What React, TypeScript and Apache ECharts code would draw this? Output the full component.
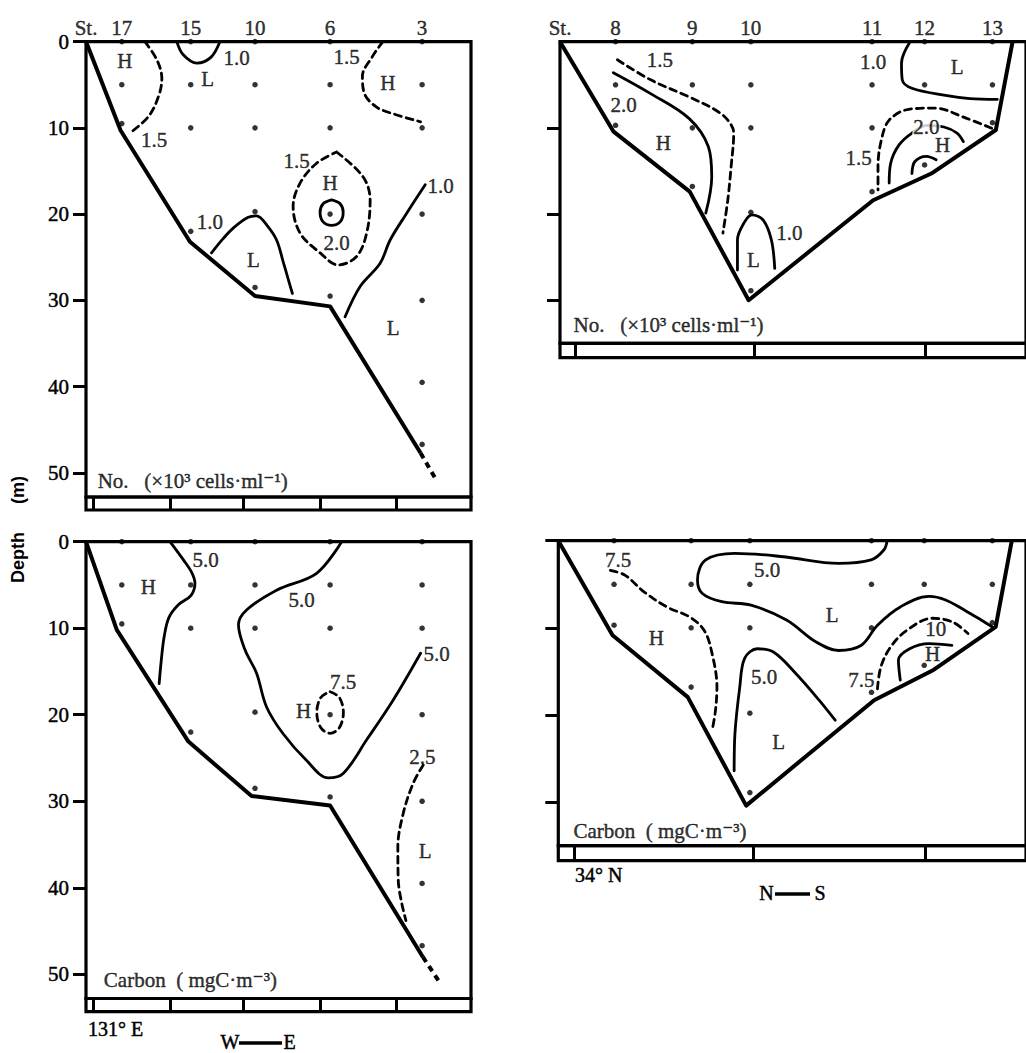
import React, { useEffect, useRef } from 'react';
import * as echarts from 'echarts';

const SERIF = "'Liberation Serif', 'Times New Roman', 'DejaVu Serif', serif";
const SANS = "'Liberation Sans', Arial, 'DejaVu Sans', sans-serif";

// ---------- West–East section (left panels); x = distance units from the coast, y = depth (m)
const stationNamesW = ['17', '15', '10', '6', '3'];
const stationXW = [9.3, 27.2, 43.9, 63.4, 87.3];
const sampleDepthsW = [
  [0, 5, 9.5],
  [0, 5, 10, 22],
  [0, 5, 10, 19.7, 28.5],
  [0, 5, 10, 20, 29.5],
  [0, 5, 10, 20, 30, 39.5, 46.7],
];
const depthTicksW = [0, 10, 20, 30, 40, 50];
const lonTicksW = [1.8, 21.8, 40.8, 60.8, 80.5];

const bottomNoW = [[0, 0], [9.0, 10.3], [27.0, 23.2], [43.9, 29.5], [63.4, 30.7], [86.9, 47.7]];
const bottomNoWExt = [[86.9, 47.7], [91.2, 51]];
const bottomCW = [[0, 0], [8.0, 10.2], [26.6, 23.1], [43.0, 29.4], [63.4, 30.5], [87.5, 48.0]];
const bottomCWExt = [[87.5, 48.0], [92.1, 51.1]];

// cell number contours (x10^3 cells/ml), W–E
const noW15a = [[15.3, 0], [18.5, 2.2], [19.7, 4.3], [18.8, 6.4], [16.2, 8.7], [11.4, 10.6]];
const noW10a = [[23.6, 0], [25.2, 1.5], [28.8, 2.5], [32.5, 1.8], [34.8, 0]];
const noW15b = [[77.1, 0], [74.3, 1.8], [71.8, 4.0], [72.3, 6.0], [75.5, 7.6], [80, 8.4], [86.9, 9.3]];
const noW15c = [[65.1, 12.8], [72.0, 15.7], [73.8, 18.4], [72.9, 22.2], [70.3, 24.9], [65.5, 25.9], [60.8, 24.5], [55.6, 22.2], [53.8, 19.1], [55.6, 16.4], [59.9, 14.1], [65.1, 12.8]];
const noW20 = [[63.8, 18.35], [66.0, 18.8], [66.8, 19.8], [66.0, 20.9], [63.8, 21.3], [61.6, 20.9], [60.8, 19.8], [61.6, 18.8], [63.8, 18.35]];
const noW10b = [[32.6, 24.5], [35.5, 22.9], [38.3, 21.6], [42, 20.4], [44.3, 20.2], [47, 21.3], [49.5, 23.0], [51.2, 25.5], [52.5, 27.5], [53.6, 29.2]];
const noW10c = [[88.1, 16.6], [83.3, 19.9], [79.0, 23.0], [76.4, 25.7], [71.2, 28.4], [67.3, 31.9]];
const noWLabels = [
  ['H', 10.1, 2.3], ['1.5', 17.7, 11.4], ['1.0', 39.1, 1.95], ['L', 31.6, 4.3],
  ['1.5', 67.7, 1.75], ['H', 78.4, 4.8], ['1.5', 54.7, 13.8], ['H', 63.4, 16.4],
  ['2.0', 65.1, 23.3], ['1.0', 32.2, 20.9], ['L', 43.5, 25.3], ['1.0', 92.1, 16.7], ['L', 79.8, 33.2],
];

// carbon contours (mgC/m3), W–E
const cW50a = [[21.8, 0], [23.5, 1.0], [25.3, 2.1], [27.5, 3.6], [28.3, 4.8], [27.3, 6.2], [24, 7.3], [21.5, 8.8], [20.3, 11], [19.6, 13.5], [19.0, 16.4]];
const cW50b = [[66.4, 0], [59.9, 3.65], [49.5, 5.6], [41.7, 7.9], [39.6, 9.6], [41.3, 12.5], [44.3, 15.2], [46.9, 19.1], [51.2, 22.2], [57.3, 25.3], [62.9, 27.3], [66.8, 26.8], [72.9, 22.9], [79.8, 18.3], [86.9, 12.9]];
const cW75 = [[63.4, 17.35], [65.8, 18.0], [66.85, 19.75], [65.8, 21.5], [63.4, 22.15], [61.0, 21.5], [59.95, 19.75], [61.0, 18.0], [63.4, 17.35]];
const cW25 = [[87.6, 25.8], [85.0, 27.9], [82.4, 31.4], [81.0, 35.3], [81.1, 39.1], [83.1, 43.8]];
const cWLabels = [
  ['5.0', 31.1, 2.1], ['H', 16.2, 5.2], ['5.0', 56.0, 6.7], ['5.0', 91.1, 13.0],
  ['H', 56.5, 19.6], ['7.5', 66.8, 16.2], ['2.5', 87.4, 24.9], ['L', 88.1, 35.8],
];

// ---------- North–South section (right panels)
const stationNamesN = ['8', '9', '10', '11', '12', '13'];
const stationXN = [14.9, 35.5, 51.2, 83.7, 97.8, 116.0];
const sampleDepthsN = [
  [0, 5, 9.7],
  [0, 5, 10, 16.8],
  [0, 5, 10, 19.8, 28.9],
  [0, 5, 10, 17.4],
  [0, 5, 14.3],
  [0, 5, 9.4],
];
const depthTicksNTop = [10, 20, 30];
const depthTicksNBottom = [0, 10, 20, 30];
const latTicksN = [4.2, 52, 98];

const bottomNoN = [[0, 0], [14.3, 10.4], [34.8, 17.4], [50.6, 30.0], [84.0, 18.4], [99.6, 15.3], [116.9, 10.25], [121.4, 0]];
const bottomCN = [[0, 0], [14.5, 10.85], [34.6, 17.95], [50.2, 30.4], [84.4, 18.3], [100.0, 14.9], [116.9, 9.9], [121.2, 0]];

const noN15a = [[15.4, 2.1], [24.2, 4.4], [34.6, 6.4], [41.6, 7.9], [45.0, 9.1], [46.6, 10.6], [45.9, 14.5], [45.0, 18.4], [43.7, 22.2]];
const noN20a = [[14.3, 3.6], [24.2, 6.0], [34.6, 8.9], [39.8, 12.2], [40.7, 15.7], [39.1, 19.9]];
const noN10a = [[47.6, 26.5], [47.6, 23.0], [49.4, 21.0], [51.5, 20.1], [54.5, 20.7], [56.7, 23.0], [57.6, 26.3]];
const noN10b = [[93.9, 0], [91.6, 2.5], [91.8, 4.4], [94.4, 5.4], [103.0, 6.2], [110.0, 6.6], [117.3, 6.7]];
const noN15b = [[115.8, 10.05], [109.1, 8.9], [100.4, 7.7], [93.5, 7.85], [88.3, 9.1], [86.2, 11.4], [85.3, 14.5], [85.3, 17.2]];
const noN20b = [[88.3, 16.4], [88.7, 14.1], [90.9, 12.0], [94.4, 10.6], [98.5, 9.7], [103.0, 9.9], [106.5, 10.6], [108.2, 11.6]];
const noN25 = [[94.4, 15.3], [95.2, 13.9], [98.3, 13.3], [100.9, 13.7]];
const noNLabels = [
  ['1.5', 26.8, 2.1], ['2.0', 17.1, 7.3], ['H', 27.7, 11.8], ['1.0', 61.5, 22.2], ['L', 51.9, 25.3],
  ['1.0', 84.0, 2.3], ['L', 106.5, 2.9], ['1.5', 80.1, 13.5], ['H', 102.6, 12.0],
];
const noNMaskedLabels = [['2.0', 98.3, 9.9]];

const cN75a = [[13.9, 3.4], [17.8, 3.95], [23.0, 5.9], [29.0, 7.6], [35.1, 8.75], [39.0, 10.3], [41.1, 12.95], [42.4, 16.8], [42.0, 19.5], [41.1, 21.8]];
const cN50a = [[87.9, 0], [87.0, 1.07], [83.6, 2.2], [74.9, 2.6], [60.2, 1.84], [47.2, 1.45], [39.4, 2.2], [37.2, 4.5], [38.5, 6.05], [43.7, 7.0], [51.5, 7.4], [61.0, 9.1], [68.8, 11.6], [74.9, 12.6], [81.0, 12.0], [85.3, 9.7], [91.4, 7.6], [99.1, 6.4], [103.5, 6.8], [108.7, 8.0], [113.0, 9.1], [116.0, 9.9]];
const cN50b = [[47.0, 26.4], [47.2, 22.2], [48.5, 16.8], [49.8, 13.5], [53.2, 12.4], [57.6, 12.8], [63.6, 15.3], [69.7, 18.3], [74.0, 20.6]];
const cN75b = [[85.3, 17.0], [86.2, 14.5], [88.8, 12.2], [93.1, 10.3], [100.0, 8.9], [105.2, 9.3], [109.5, 10.65]];
const cN100 = [[91.4, 16.0], [90.9, 13.7], [93.9, 12.4], [99.1, 11.8], [105.2, 12.0]];
const cNLabels = [
  ['7.5', 16.0, 2.2], ['H', 26.2, 11.2], ['5.0', 55.8, 3.4], ['L', 73.2, 8.55], ['5.0', 55.0, 15.65],
  ['L', 58.9, 23.1], ['7.5', 81.0, 16.0], ['10', 100.9, 10.1], ['H', 100.0, 13.0],
];

const titleNo = 'No.   (×10³ cells·ml⁻¹)';
const titleC = 'Carbon  ( mgC·m⁻³)';

const FS = 21;
const heavy = { textBorderColor: '#000', textBorderWidth: 0.45 };

// ---------- helpers
const contour = (gi: number, data: number[][], dashed: boolean) => ({
  type: 'line', xAxisIndex: gi, yAxisIndex: gi, data, symbol: 'none', showSymbol: false,
  smooth: 0.35, clip: false, silent: true, z: 3,
  lineStyle: { color: '#000', width: 2.8, type: dashed ? [7, 5] : 'solid', cap: 'round' },
});
const bottom = (gi: number, data: number[][], dashed = false) => ({
  type: 'line', xAxisIndex: gi, yAxisIndex: gi, data, symbol: 'none', showSymbol: false,
  clip: false, silent: true, z: 3,
  lineStyle: { color: '#000', width: 4, type: dashed ? [6, 5] : 'solid', join: 'round' },
});
const samples = (gi: number, xs: number[], depths: number[][]) => ({
  type: 'scatter', xAxisIndex: gi, yAxisIndex: gi, clip: false, silent: true, z: 4,
  symbol: 'circle', symbolSize: 5.5, itemStyle: { color: '#000' },
  data: xs.flatMap((x, i) => depths[i].map((d) => [x, d])),
});
const texts = (gi: number, items: any[], label: any = {}) => ({
  type: 'scatter', xAxisIndex: gi, yAxisIndex: gi, clip: false, silent: true, z: 6,
  symbol: 'circle', symbolSize: 1, itemStyle: { color: 'transparent' },
  emphasis: { disabled: true },
  data: items.map(([t, x, y]) => ({ name: t, value: [x, y] })),
  label: { show: true, position: 'inside', formatter: '{b}', color: '#000', fontFamily: SERIF, fontSize: FS, ...heavy, ...label },
});
const stationLabels = (gi: number, names: string[], xs: number[]) =>
  texts(gi, [['St.', 0, 0], ...names.map((n, i) => [n, xs[i], 0])], { position: 'top', distance: 3 });
const barTicks = (gi: number, ticks: number[]) => ({
  type: 'line', xAxisIndex: gi, yAxisIndex: gi, data: [[0, 0.5]], symbol: 'none', silent: true,
  lineStyle: { width: 0 },
  markLine: {
    silent: true, symbol: ['none', 'none'], label: { show: false },
    lineStyle: { color: '#000', width: 3, type: 'solid' },
    data: ticks.map((v) => ({ xAxis: v })),
  },
});

const mainY = (gi: number, max: number, ticks: number[], showLabels: boolean) => ({
  gridIndex: gi, type: 'value', inverse: true, min: 0, max,
  axisLine: { show: false },
  axisTick: { show: true, inside: false, length: 13, lineStyle: { color: '#000', width: 3 }, customValues: ticks },
  axisLabel: { show: showLabels, customValues: ticks, margin: 17, color: '#000', fontFamily: SERIF, fontSize: FS, ...heavy },
  splitLine: { show: false },
});
const hiddenY = (gi: number) => ({ gridIndex: gi, type: 'value', min: 0, max: 1, show: false });
const hiddenX = (gi: number, max: number) => ({ gridIndex: gi, type: 'value', min: 0, max, show: false });

const frame = { show: true, borderColor: '#000', borderWidth: 3.2, backgroundColor: 'transparent' };

function buildOption() {
  const grid = [
    { left: 86, top: 41.6, width: 385, height: 455.4, ...frame },
    { left: 86, top: 497, width: 385, height: 13, ...frame },
    { left: 86, top: 541.7, width: 385, height: 456.8, ...frame },
    { left: 86, top: 998.5, width: 385, height: 13.2, ...frame },
    { left: 560, top: 41.7, width: 481.25, height: 301.6, ...frame },
    { left: 560, top: 343.3, width: 481.25, height: 14.4, ...frame },
    { left: 558.3, top: 540.7, width: 481.25, height: 305, ...frame },
    { left: 558.3, top: 845.7, width: 481.25, height: 15, ...frame },
  ];
  const xAxis = [
    hiddenX(0, 100), hiddenX(1, 100), hiddenX(2, 100), hiddenX(3, 100),
    hiddenX(4, 125), hiddenX(5, 125), hiddenX(6, 125), hiddenX(7, 125),
  ];
  const yAxis = [
    mainY(0, 52.8, depthTicksW, true), hiddenY(1),
    mainY(2, 52.8, depthTicksW, true), hiddenY(3),
    mainY(4, 35, depthTicksNTop, false), hiddenY(5),
    mainY(6, 35, depthTicksNBottom, false), hiddenY(7),
  ];
  const titleLabel = { position: 'right', distance: 0, fontSize: FS };
  const series: any[] = [
    // top-left: cell numbers, W-E
    bottom(0, bottomNoW), bottom(0, bottomNoWExt, true),
    contour(0, noW15a, true), contour(0, noW10a, false), contour(0, noW15b, true),
    contour(0, noW15c, true), contour(0, noW20, false), contour(0, noW10b, false), contour(0, noW10c, false),
    samples(0, stationXW, sampleDepthsW),
    stationLabels(0, stationNamesW, stationXW),
    texts(0, noWLabels),
    texts(0, [[titleNo, 2.9, 51.0]], titleLabel),
    barTicks(1, lonTicksW),
    // bottom-left: carbon, W-E
    bottom(2, bottomCW), bottom(2, bottomCWExt, true),
    contour(2, cW50a, false), contour(2, cW50b, false), contour(2, cW75, true), contour(2, cW25, true),
    samples(2, stationXW, sampleDepthsW),
    texts(2, cWLabels),
    texts(2, [[titleC, 4.5, 50.7]], titleLabel),
    barTicks(3, lonTicksW),
    // top-right: cell numbers, N-S
    bottom(4, bottomNoN),
    contour(4, noN15a, true), contour(4, noN20a, false), contour(4, noN10a, false), contour(4, noN10b, false),
    contour(4, noN15b, true), contour(4, noN20b, false), contour(4, noN25, false),
    samples(4, stationXN, sampleDepthsN),
    stationLabels(4, stationNamesN, stationXN),
    texts(4, noNLabels),
    texts(4, noNMaskedLabels, { backgroundColor: '#fff', padding: [0, 1] }),
    texts(4, [[titleNo, 3.5, 32.9]], titleLabel),
    barTicks(5, latTicksN),
    // bottom-right: carbon, N-S
    bottom(6, bottomCN),
    contour(6, cN75a, true), contour(6, cN50a, false), contour(6, cN50b, false),
    contour(6, cN75b, true), contour(6, cN100, false),
    samples(6, stationXN, sampleDepthsN),
    texts(6, cNLabels),
    texts(6, [[titleC, 3.9, 33.3]], titleLabel),
    barTicks(7, latTicksN),
  ];
  const serifText = (text: string, x: number, y: number, align = 'left') => ({
    type: 'text', x, y, silent: true,
    style: { text, fill: '#000', fontFamily: SERIF, fontSize: 20, align, verticalAlign: 'middle', stroke: '#000', lineWidth: 0.45 },
  });
  const graphic = [
    { type: 'text', x: 17.5, y: 557.5, rotation: Math.PI / 2, silent: true,
      style: { text: 'Depth', fill: '#000', fontFamily: SANS, fontWeight: 'bold', fontSize: 18, align: 'center', verticalAlign: 'middle' } },
    { type: 'text', x: 17.5, y: 490, rotation: Math.PI / 2, silent: true,
      style: { text: '(m)', fill: '#000', fontFamily: SANS, fontWeight: 'bold', fontSize: 18, align: 'center', verticalAlign: 'middle' } },
    serifText('131° E', 88, 1029),
    serifText('W', 230, 1042, 'center'),
    { type: 'line', silent: true, shape: { x1: 239, y1: 1043, x2: 282, y2: 1043 }, style: { stroke: '#000', lineWidth: 3.5 } },
    serifText('E', 289.5, 1042, 'center'),
    serifText('34° N', 575, 875),
    serifText('N', 766.5, 893, 'center'),
    { type: 'line', silent: true, shape: { x1: 775, y1: 894, x2: 810, y2: 894 }, style: { stroke: '#000', lineWidth: 3.5 } },
    serifText('S', 820, 893, 'center'),
  ];
  return { animation: false, backgroundColor: '#fff', grid, xAxis, yAxis, series, graphic };
}

export default function App() {
  const ref = useRef<HTMLDivElement>(null);
  useEffect(() => {
    if (!ref.current) return;
    const chart = echarts.init(ref.current, null, { renderer: 'svg' });
    chart.setOption(buildOption() as any);
    return () => chart.dispose();
  }, []);
  return (
    <div
      ref={ref}
      style={{ position: 'fixed', left: 0, top: 0, width: 1026, height: 1053, background: '#fff' }}
    />
  );
}
